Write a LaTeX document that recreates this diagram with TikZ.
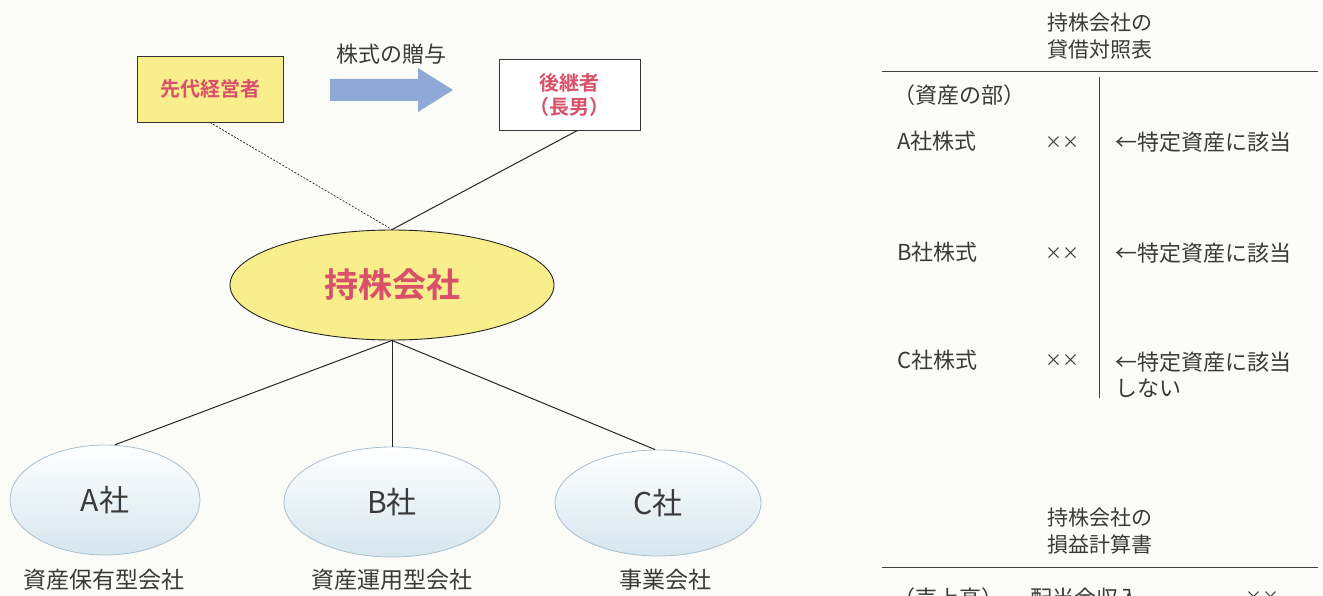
\documentclass[tikz,border=0pt]{standalone}
\usepackage{fontspec}
\setmainfont{Noto Sans CJK JP}
\newfontfamily\cjk{Noto Sans CJK JP}
\newfontfamily\cjkb{Noto Sans CJK JP Bold}
\usetikzlibrary{shapes.geometric,arrows.meta}
\definecolor{bg}{HTML}{FBFBF7}
\definecolor{ylw}{HTML}{F8EE8C}
\definecolor{pinkred}{HTML}{D9506A}
\definecolor{arrowblue}{HTML}{8FA9D6}
\definecolor{elborder}{HTML}{A9BFCF}
\definecolor{elfill}{HTML}{D5E6EE}
\definecolor{txt}{HTML}{3A3A3A}
\tikzset{
  topbox/.style={draw=black!80, line width=0.9pt, minimum height=66pt, align=center, font=\cjkb\fontsize{20}{24}\selectfont, text=pinkred},
  company/.style={ellipse, draw=elborder, line width=0.8pt, top color=white, bottom color=elfill, font=\cjk\fontsize{30}{34}\selectfont, text=txt},
  link/.style={draw=black!85, line width=1pt},
  lbl/.style={font=\cjk\fontsize{22}{26}\selectfont, text=txt, inner sep=0pt},
  xx/.style={font=\cjk\fontsize{17}{20}\selectfont, text=txt, inner sep=0pt, anchor=west},
  rule/.style={draw=black!75, line width=1pt}
}
\begin{document}
\begin{tikzpicture}[x=1pt,y=-1pt]
\useasboundingbox (0,0) rectangle (1323,596);
\clip (0,0) rectangle (1323,596);
\fill[bg] (0,0) rectangle (1323,596);
% top boxes
\node[topbox, fill=ylw, minimum width=146pt] (sendai) at (210,89) {先代経営者};
\node[topbox, fill=white, minimum width=141pt, minimum height=71pt] (kokei) at (569.5,94.5) {後継者\\（長男）};
% arrow
\node[lbl] (gift) at (391,54) {株式の贈与};
\fill[arrowblue] (330,79) -- (418,79) -- (418,68) -- (453,90) -- (418,112) -- (418,101) -- (330,101) -- cycle;
% holding company
\node[ellipse, draw=black!85, line width=0.9pt, fill=ylw, minimum width=324pt, minimum height=110pt, font=\cjkb\fontsize{34}{38}\selectfont, text=pinkred] (hold) at (392,285) {持株会社};
\draw[link, dashed, dash pattern=on 2pt off 1.5pt, line width=0.7pt] (sendai.south) -- (hold.north);
\draw[link] (kokei.south) ++(8,0) coordinate (kk) (kk) -- (hold.north);
% companies
\node[company, minimum width=190pt, minimum height=110pt] (A) at (105,500) {A社};
\node[company, minimum width=216pt, minimum height=110pt] (B) at (392,502) {B社};
\node[company, minimum width=206pt, minimum height=106pt] (C) at (658,503) {C社};
\draw[link] (hold.south) -- (A.80);
\draw[link] (hold.south) -- (B.north);
\draw[link] (hold.south) -- (C.93);
\node[lbl, font=\cjk\fontsize{23}{26}\selectfont] (la) at (104,580) {資産保有型会社};
\node[lbl, font=\cjk\fontsize{23}{26}\selectfont] (lb) at (392,580) {資産運用型会社};
\node[lbl, font=\cjk\fontsize{23}{26}\selectfont] (lc) at (665,580) {事業会社};
% right: balance sheet
\node[lbl, align=center, font=\cjk\fontsize{21}{27}\selectfont] (bst) at (1100,36) {持株会社の\\貸借対照表};
\coordinate (h1l) at (882,72); \coordinate (h1r) at (1318,72);
\draw[rule] (h1l) -- (h1r);
\coordinate (v1t) at (1099,77); \coordinate (v1b) at (1099,398);
\draw[rule, line width=0.9pt] (v1t) -- (v1b);
\node[lbl, anchor=west] (assets) at (893,95) {（資産の部）};
\node[lbl, anchor=west] (as) at (897,141) {A社株式};
\node[xx] (ax) at (1045,143) {××};
\node[lbl, anchor=west] (an) at (1115,142) {←特定資産に該当};
\node[lbl, anchor=west] (bs) at (897,252) {B社株式};
\node[xx] (bx) at (1045,254) {××};
\node[lbl, anchor=west] (bn) at (1115,253) {←特定資産に該当};
\node[lbl, anchor=west] (cs) at (897,360) {C社株式};
\node[xx] (cx) at (1045,361) {××};
\node[lbl, anchor=west, align=left] (cn) at (1115,375) {←特定資産に該当\\しない};
% income statement
\node[lbl, align=center, font=\cjk\fontsize{21}{27}\selectfont] (ist) at (1100,531) {持株会社の\\損益計算書};
\coordinate (h2l) at (882,567); \coordinate (h2r) at (1318,567);
\draw[rule] (h2l) -- (h2r);
\node[lbl, anchor=west] (sales) at (893,598) {（売上高）};
\node[lbl, anchor=west] (div) at (1030,598) {配当金収入};
\node[xx] (dx) at (1245,598) {××};
\end{tikzpicture}
\end{document}
